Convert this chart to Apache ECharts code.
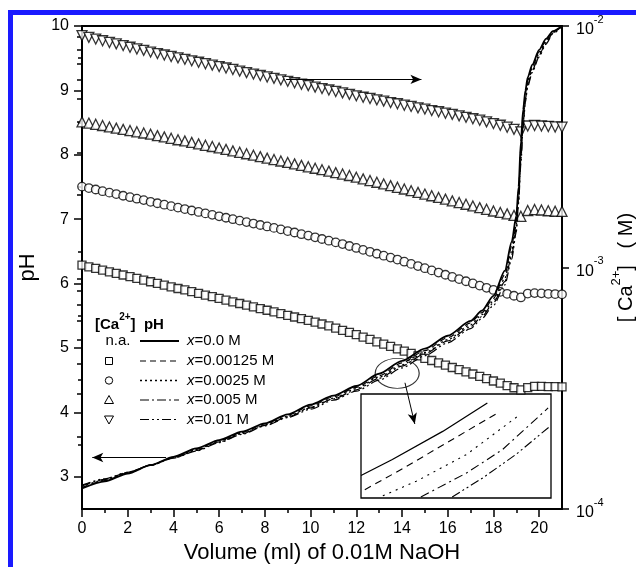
<!DOCTYPE html>
<html><head><meta charset="utf-8">
<script src="https://cdn.jsdelivr.net/npm/echarts@6/dist/echarts.min.js"></script>
<style>html,body{margin:0;padding:0;background:#fff}#c{width:636px;height:567px}</style>
</head><body><div id="c"></div>
<script>
// ---------- titration curves: pH vs volume of 0.01 M NaOH ----------
const volumeTitration = [0,1,2,3,4,5,6,7,8,9,10,11,12,13,14,15,16,17,17.5,18,18.5,18.8,19.0,19.1,19.2,19.3,19.4,19.5,19.7,20.0,20.3,20.6,21];
const pH_x0       = [2.82,2.93,3.05,3.18,3.31,3.44,3.57,3.70,3.83,3.97,4.12,4.26,4.41,4.60,4.80,4.99,5.19,5.42,5.58,5.81,6.20,6.65,7.05,7.50,8.20,8.70,9.00,9.20,9.40,9.63,9.80,9.92,10.0];
const pH_x000125  = [2.83,2.94,3.06,3.18,3.30,3.43,3.56,3.69,3.82,3.96,4.10,4.24,4.39,4.57,4.77,4.96,5.16,5.39,5.55,5.77,6.14,6.58,6.99,7.44,8.10,8.62,8.95,9.16,9.37,9.60,9.78,9.91,10.0];
const pH_x00025   = [2.85,2.95,3.06,3.18,3.30,3.42,3.55,3.68,3.81,3.94,4.08,4.22,4.37,4.55,4.74,4.93,5.13,5.36,5.52,5.73,6.08,6.50,6.92,7.37,8.00,8.55,8.90,9.12,9.34,9.57,9.76,9.90,10.0];
const pH_x0005    = [2.86,2.96,3.07,3.18,3.29,3.41,3.54,3.67,3.80,3.93,4.07,4.21,4.35,4.53,4.72,4.91,5.11,5.33,5.49,5.70,6.03,6.44,6.86,7.30,7.92,8.48,8.86,9.09,9.31,9.55,9.74,9.89,10.0];
const pH_x001     = [2.87,2.97,3.07,3.18,3.29,3.40,3.53,3.66,3.79,3.92,4.05,4.19,4.33,4.50,4.69,4.88,5.08,5.30,5.46,5.66,5.98,6.38,6.80,7.24,7.85,8.42,8.82,9.06,9.28,9.52,9.72,9.88,10.0];

// ---------- free [Ca2+] (log10 of molarity) vs volume ----------
const volumeCa = [0,0.3,0.6,0.9,1.2,1.5,1.8,2.1,2.4,2.7,3.0,3.3,3.6,3.9,4.2,4.5,4.8,5.1,5.4,5.7,6.0,6.3,6.6,6.9,7.2,7.5,7.8,8.1,8.4,8.7,9.0,9.3,9.6,9.9,10.2,10.5,10.8,11.1,11.4,11.7,12.0,12.3,12.6,12.9,13.2,13.5,13.8,14.1,14.4,14.7,15.0,15.3,15.6,15.9,16.2,16.5,16.8,17.1,17.4,17.7,18.0,18.3,18.6,18.9,19.2,19.5,19.8,20.1,20.4,20.7,21.0];
const log10Ca_x000125 = [-2.990,-2.997,-3.004,-3.011,-3.018,-3.024,-3.031,-3.038,-3.045,-3.052,
 -3.059,-3.066,-3.073,-3.080,-3.087,-3.093,-3.100,-3.107,-3.114,-3.121,
 -3.128,-3.135,-3.142,-3.149,-3.156,-3.163,-3.170,-3.177,-3.184,-3.191,
 -3.198,-3.205,-3.212,-3.219,-3.226,-3.234,-3.242,-3.251,-3.260,-3.269,
 -3.278,-3.288,-3.298,-3.308,-3.317,-3.327,-3.337,-3.346,-3.356,-3.366,
 -3.376,-3.385,-3.395,-3.404,-3.414,-3.423,-3.432,-3.441,-3.451,-3.460,
 -3.470,-3.479,-3.489,-3.498,-3.507,
 -3.497,-3.492,-3.492,-3.493,-3.493,-3.494];
const log10Ca_x00025 = [-2.665,-2.671,-2.677,-2.684,-2.690,-2.696,-2.703,-2.709,-2.715,-2.721,
 -2.728,-2.734,-2.740,-2.746,-2.752,-2.758,-2.764,-2.770,-2.776,-2.782,
 -2.788,-2.794,-2.800,-2.806,-2.812,-2.818,-2.824,-2.830,-2.836,-2.842,
 -2.849,-2.855,-2.862,-2.868,-2.875,-2.882,-2.889,-2.896,-2.903,-2.911,
 -2.919,-2.927,-2.935,-2.943,-2.951,-2.959,-2.967,-2.976,-2.985,-2.994,
 -3.003,-3.012,-3.021,-3.030,-3.039,-3.048,-3.057,-3.066,-3.075,-3.084,
 -3.093,-3.101,-3.109,-3.117,-3.124,
 -3.108,-3.106,-3.107,-3.109,-3.110,-3.111];
const log10Ca_x0005 = [-2.397,-2.402,-2.407,-2.412,-2.418,-2.423,-2.428,-2.433,-2.438,-2.443,
 -2.448,-2.454,-2.459,-2.465,-2.471,-2.476,-2.482,-2.488,-2.494,-2.499,
 -2.505,-2.511,-2.517,-2.523,-2.529,-2.535,-2.541,-2.547,-2.553,-2.559,
 -2.565,-2.571,-2.577,-2.583,-2.589,-2.595,-2.601,-2.607,-2.613,-2.619,
 -2.626,-2.633,-2.640,-2.647,-2.654,-2.661,-2.668,-2.675,-2.682,-2.689,
 -2.696,-2.703,-2.710,-2.717,-2.724,-2.731,-2.738,-2.745,-2.752,-2.759,
 -2.766,-2.772,-2.778,-2.784,-2.788,
 -2.764,-2.760,-2.762,-2.765,-2.767,-2.768];
const log10Ca_x001 = [-2.040,-2.047,-2.054,-2.061,-2.068,-2.074,-2.081,-2.088,-2.095,-2.101,
 -2.108,-2.114,-2.120,-2.126,-2.132,-2.138,-2.144,-2.150,-2.156,-2.162,
 -2.168,-2.174,-2.180,-2.187,-2.193,-2.199,-2.205,-2.211,-2.217,-2.223,
 -2.229,-2.235,-2.241,-2.247,-2.253,-2.259,-2.265,-2.271,-2.277,-2.283,
 -2.289,-2.295,-2.300,-2.306,-2.311,-2.317,-2.322,-2.328,-2.333,-2.339,
 -2.344,-2.350,-2.355,-2.361,-2.366,-2.372,-2.378,-2.384,-2.390,-2.397,
 -2.404,-2.411,-2.419,-2.428,-2.438,
 -2.414,-2.412,-2.414,-2.416,-2.418,-2.419];

// ---------- inset: magnified view of the circled region ----------
const insetVol_x0      = [13.00,13.33,13.86,14.33];
const insetPH_x0       = [4.508,4.585,4.720,4.857];
const insetVol_x000125 = [13.04,13.45,13.93,14.44];
const insetPH_x000125  = [4.440,4.544,4.673,4.809];
const insetVol_x00025  = [13.23,13.58,14.11,14.67];
const insetPH_x00025   = [4.411,4.480,4.609,4.800];
const insetVol_x0005   = [13.63,14.11,14.49,14.97];
const insetPH_x0005    = [4.405,4.520,4.633,4.833];
const insetVol_x001    = [13.96,14.28,14.63,14.99];
const insetPH_x001     = [4.405,4.496,4.609,4.745];

// ---------- ticks & labels ----------
const xMajorTicks = [0,2,4,6,8,10,12,14,16,18,20];
const xMinorTicks = [1,3,5,7,9,11,13,15,17,19];
const pHMajorTicks = [3,4,5,6,7,8,9,10];
const pHMinorTicks = [3.5,4.5,5.5,6.5,7.5,8.5,9.5];
const caDecades = [-4,-3,-2];
const caMinorMultipliers = [2,3,4,5,6,7,8,9];
const legendConcentrations = ['0.0 M','0.00125 M','0.0025 M','0.005 M','0.01 M'];
const legendMarkers = ['n.a.','square','circle','up','down'];

// annotations in data coordinates (volume, pH)
const circledRegion = [13.79, 4.607];
const arrowToLeftAxis = [[3.68,3.30],[0.45,3.30]];
const arrowToRightAxis = [[8.93,9.17],[14.85,9.17]];
const arrowToInset = [[14.13,4.46],[14.56,3.82]];

const FONT = '"Liberation Sans", Arial, Helvetica, sans-serif';
const zip = (a,b) => a.map((v,i)=>[v,b[i]]);
const caMinorTicks = [];
[-4,-3].forEach(d => caMinorMultipliers.forEach(m => caMinorTicks.push(d + Math.log10(m))));

const dashes = ['solid',[6,4],[2,3],[9,3,2,3],[9,3,2,3,2,3]];
const insetDashes = ['solid',[7,5],[2,5],[9,4,2,4],[9,3,2,3,2,3]];
const lineWidths = [1.8,1.2,1.3,1.2,1.2];
const pHSets = [pH_x0,pH_x000125,pH_x00025,pH_x0005,pH_x001];
const insetSets = [[insetVol_x0,insetPH_x0],[insetVol_x000125,insetPH_x000125],[insetVol_x00025,insetPH_x00025],[insetVol_x0005,insetPH_x0005],[insetVol_x001,insetPH_x001]];
const names = ['x=0.0 M','x=0.00125 M','x=0.0025 M','x=0.005 M','x=0.01 M'];

const series = [];
const caSets = [log10Ca_x000125, log10Ca_x00025, log10Ca_x0005, log10Ca_x001];
const caSymbols = [['rect',8,0],['circle',8.5,0],['triangle',10,0],['triangle',10,180]];
caSets.forEach((arr,i)=>{
  series.push({type:'scatter', name:'[Ca2+] '+names[i+1], xAxisIndex:0, yAxisIndex:1, z:2,
    symbol:caSymbols[i][0], symbolSize:caSymbols[i][1], symbolRotate:caSymbols[i][2],
    itemStyle:{color:'#fff', borderColor:'#000', borderWidth:1.3},
    data: zip(volumeCa, arr)});
});
pHSets.forEach((arr,i)=>{
  const s = {type:'line', name:'pH '+names[i], xAxisIndex:0, yAxisIndex:0, z:3,
    symbol:'none', showSymbol:false, smooth:0.25, smoothMonotone:'x',
    lineStyle:{color:'#000', width:lineWidths[i], type:dashes[i]},
    data: zip(volumeTitration, arr)};
  if (i===0) {
    s.markLine = {silent:true, symbol:['none','arrow'], symbolSize:[7,11], animation:false,
      label:{show:false}, lineStyle:{color:'#000', width:1, type:'solid'},
      data:[arrowToLeftAxis, arrowToRightAxis, arrowToInset].map(a=>[{coord:a[0]},{coord:a[1]}])};
  }
  series.push(s);
});
series.push({type:'scatter', xAxisIndex:0, yAxisIndex:0, z:4, silent:true,
  symbol:'circle', symbolSize:[44,30],
  itemStyle:{color:'rgba(0,0,0,0)', borderColor:'#000', borderWidth:1},
  data:[circledRegion]});
insetSets.forEach((p,i)=>{
  series.push({type:'line', name:'inset '+names[i], xAxisIndex:3, yAxisIndex:4, z:3,
    symbol:'none', showSymbol:false,
    lineStyle:{color:'#000', width:i===0?1.3:1.1, type:insetDashes[i]},
    data: zip(p[0], p[1])});
});

const axisLine = {show:true, onZero:false, lineStyle:{color:'#000', width:2}};
const tickStyle = {color:'#000', width:1.5};
const option = {
  animation:false,
  backgroundColor:'#fff',
  grid:[
    {left:82, right:74, top:26, bottom:58, outerBoundsMode:'none', containLabel:false},
    {left:361, top:394, width:190, height:104, show:true, borderColor:'#000', borderWidth:1.3, backgroundColor:'#fff', outerBoundsMode:'none'}
  ],
  xAxis:[
    {type:'value', gridIndex:0, position:'bottom', min:0, max:21, axisLine,
      axisTick:{show:true, customValues:xMajorTicks, length:8, lineStyle:tickStyle},
      axisLabel:{customValues:xMajorTicks, color:'#000', fontSize:16, margin:12, fontFamily:FONT},
      splitLine:{show:false},
      name:'Volume (ml) of 0.01M NaOH', nameLocation:'middle', nameGap:27,
      nameTextStyle:{fontSize:22, color:'#000', fontFamily:FONT}},
    {type:'value', gridIndex:0, position:'bottom', min:0, max:21, axisLine:{show:false},
      axisTick:{show:true, customValues:xMinorTicks, length:4, lineStyle:tickStyle},
      axisLabel:{show:false}, splitLine:{show:false}},
    {type:'value', gridIndex:0, position:'top', min:0, max:21, axisLine,
      axisTick:{show:false}, axisLabel:{show:false}, splitLine:{show:false}},
    {type:'value', gridIndex:1, min:13, max:15, show:false}
  ],
  yAxis:[
    {type:'value', gridIndex:0, position:'left', min:2.5, max:10, axisLine,
      axisTick:{show:true, customValues:pHMajorTicks, length:8, lineStyle:tickStyle},
      axisLabel:{customValues:pHMajorTicks, color:'#000', fontSize:16, margin:13, fontFamily:FONT},
      splitLine:{show:false},
      name:'pH', nameLocation:'middle', nameRotate:90, nameGap:43,
      nameTextStyle:{fontSize:22, color:'#000', fontFamily:FONT}},
    {type:'value', gridIndex:0, position:'right', min:-4, max:-2, interval:1, axisLine,
      axisTick:{show:true, length:7, lineStyle:tickStyle},
      axisLabel:{color:'#000', margin:14, fontFamily:FONT,
        formatter: v => '{b|10}{s|' + v + '}',
        rich:{b:{fontSize:16, fontFamily:FONT, color:'#000', lineHeight:24, verticalAlign:'bottom'},
              s:{fontSize:11, fontFamily:FONT, color:'#000', lineHeight:11, verticalAlign:'top'}}},
      splitLine:{show:false},
      name:'{b|[ Ca}{s|2+}{b|]   ( M)}', nameLocation:'middle', nameRotate:90, nameGap:48,
      nameMoveOverlap:false,
      nameTextStyle:{fontFamily:FONT, color:'#000',
        rich:{b:{fontSize:20, fontFamily:FONT, color:'#000', lineHeight:26, verticalAlign:'bottom'},
              s:{fontSize:13, fontFamily:FONT, color:'#000', lineHeight:13, verticalAlign:'top'}}}},
    {type:'value', gridIndex:0, position:'right', min:-4, max:-2, axisLine:{show:false},
      axisTick:{show:true, inside:true, customValues:caMinorTicks, length:5, lineStyle:tickStyle},
      axisLabel:{show:false}, splitLine:{show:false}},
    {type:'value', gridIndex:0, position:'left', min:2.5, max:10, axisLine:{show:false},
      axisTick:{show:true, customValues:pHMinorTicks, length:4, lineStyle:tickStyle},
      axisLabel:{show:false}, splitLine:{show:false}},
    {type:'value', gridIndex:1, min:4.4, max:4.9, show:false}
  ],
  series
};

const legendEls = [];
const rowY = [341,361,380.5,400,419.5];
legendEls.push({type:'text', x:95, y:322, style:{text:'{b|[Ca}{s|2+}{b|]  pH}', verticalAlign:'middle', fill:'#000',
  rich:{b:{fontSize:15, fontWeight:'bold', fontFamily:FONT, lineHeight:20, verticalAlign:'bottom'},
        s:{fontSize:10, fontWeight:'bold', fontFamily:FONT, lineHeight:10, verticalAlign:'top'}}}});
legendMarkers.forEach((m,i)=>{
  const y = rowY[i], cx = 109;
  if (m==='n.a.') legendEls.push({type:'text', x:118, y, style:{text:'n.a.', fontSize:15, fontFamily:FONT, fill:'#000', align:'center', verticalAlign:'middle'}});
  if (m==='square') legendEls.push({type:'rect', shape:{x:cx-3.5,y:y-3.5,width:7,height:7}, style:{fill:'#fff', stroke:'#000', lineWidth:1}});
  if (m==='circle') legendEls.push({type:'circle', shape:{cx, cy:y, r:3.7}, style:{fill:'#fff', stroke:'#000', lineWidth:1}});
  if (m==='up') legendEls.push({type:'polygon', shape:{points:[[cx-4.5,y+3.5],[cx+4.5,y+3.5],[cx,y-4.5]]}, style:{fill:'#fff', stroke:'#000', lineWidth:1}});
  if (m==='down') legendEls.push({type:'polygon', shape:{points:[[cx-4.5,y-3.5],[cx+4.5,y-3.5],[cx,y+4.5]]}, style:{fill:'#fff', stroke:'#000', lineWidth:1}});
  const d = dashes[i];
  legendEls.push({type:'line', shape:{x1:140,y1:y,x2:179,y2:y}, style:{stroke:'#000', lineWidth:lineWidths[i], lineDash: d==='solid'?null:d}});
  legendEls.push({type:'text', x:187, y, style:{text:'{i|x}='+legendConcentrations[i], fontSize:15, fontFamily:FONT, fill:'#000', verticalAlign:'middle',
    rich:{i:{fontStyle:'italic', fontSize:15, fontFamily:FONT}}}});
});
option.graphic = [
  {type:'rect', shape:{x:8,y:10,width:628,height:5}, style:{fill:'#1a1aff'}, z:100},
  {type:'rect', shape:{x:8,y:10,width:5,height:557}, style:{fill:'#1a1aff'}, z:100},
  {type:'group', children:legendEls, z:50}
];

const chart = echarts.init(document.getElementById('c'), null, {renderer:'canvas'});
chart.setOption(option);
</script>
</body></html>
